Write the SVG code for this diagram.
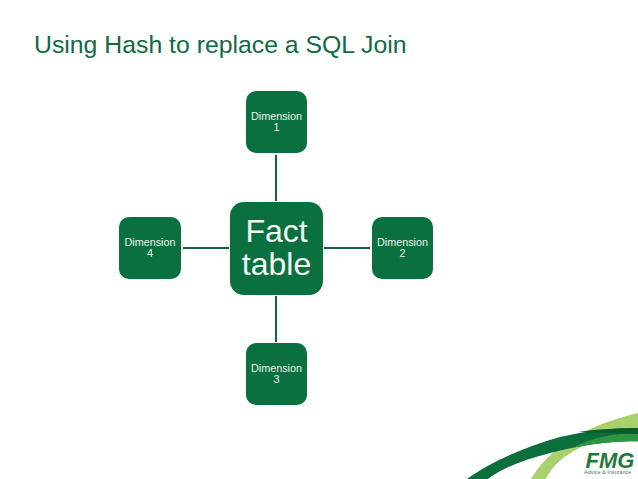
<svg xmlns="http://www.w3.org/2000/svg" width="638" height="479" viewBox="0 0 638 479">
<style>
.n{fill:#0b7040}
.c{stroke:#14633f;stroke-width:2;fill:none}
text{font-family:"Liberation Sans",Arial,sans-serif;fill:#fff;text-anchor:middle}
.s{font-size:10.800px;fill:#e8f3ec}
.b{font-size:32px;fill:#f6fbf8}
</style>
<rect width="638" height="479" fill="#fff"/>
<text x="34" y="52.500" style="font-size:24.800px;fill:#0f6a45;text-anchor:start">Using Hash to replace a SQL Join</text>
<g id="connectors">
<path class="c" d="M276 155V201"/>
<path class="c" d="M276 296V342"/>
<path class="c" d="M183 248H229"/>
<path class="c" d="M324 248H370"/>
</g>
<g id="fact"><rect class="n" x="230" y="202" width="93" height="93" rx="14"/><text class="b" x="276.500" y="242">Fact</text><text class="b" x="276.500" y="275">table</text></g>
<g id="dim1"><rect class="n" x="246" y="91" width="61" height="62" rx="10"/><text class="s" x="276.500" y="120">Dimension</text><text class="s" x="276.500" y="131">1</text></g>
<g id="dim2"><rect class="n" x="372" y="217" width="61" height="62" rx="10"/><text class="s" x="402.500" y="246">Dimension</text><text class="s" x="402.500" y="257">2</text></g>
<g id="dim3"><rect class="n" x="246" y="343" width="61" height="62" rx="10"/><text class="s" x="276.500" y="372">Dimension</text><text class="s" x="276.500" y="383">3</text></g>
<g id="dim4"><rect class="n" x="119" y="217" width="62" height="62" rx="10"/><text class="s" x="150" y="246">Dimension</text><text class="s" x="150" y="257">4</text></g>
<g id="logo">
<path fill="#a8d06c" d="M531 479C545 455 575 428 638 413V442C615 441 598 443 583 446C565 455 552 465 546 479Z"/>
<path fill="#0c6e3c" d="M467 479C490 462 525 447 560 437C585 431 615 428 638 428V441C610 441 580 445 550 453C525 460 505 466 488 479Z"/>
<path fill="#2f9440" d="M572 448C595 443 615 441 638 441V433C615 433 590 438 572 448Z"/>
<path fill="#075c2c" d="M578 432C598 429 620 428 638 428V434C618 433 598 433 578 432Z"/>
<text x="610" y="467.500" style="font-size:22px;font-weight:bold;font-style:italic;fill:#1f7a3c">FMG</text>
<text x="584" y="474" style="font-size:5.500px;fill:#4d7a5c;text-anchor:start">Advice &amp; Insurance</text>
</g>
</svg>
